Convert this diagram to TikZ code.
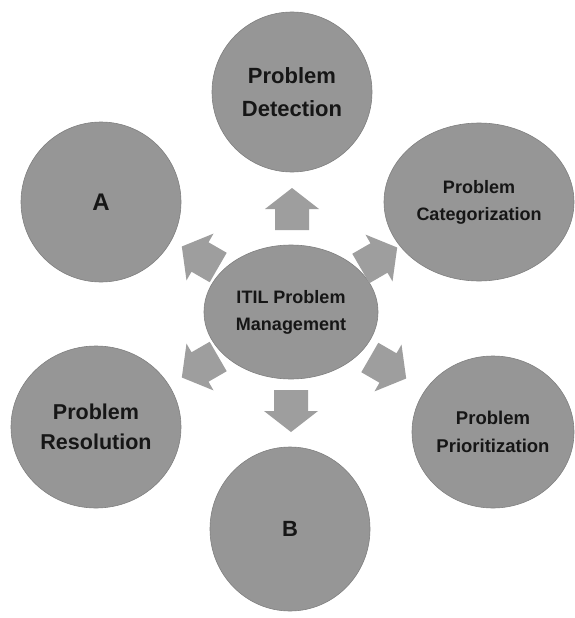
\documentclass[tikz,border=0pt]{standalone}
\usepackage{fontspec}
\setmainfont{Liberation Sans}
\usetikzlibrary{shapes.geometric}
\definecolor{bubble}{RGB}{150,150,150}
\definecolor{arrowgray}{RGB}{158,158,158}
\definecolor{ink}{RGB}{22,22,22}
\tikzset{
  bubble/.style={ellipse, fill=bubble, draw=bubble!85!black, line width=0.6pt, inner sep=0pt, text=ink, align=center},
  fs/.style 2 args={font=\bfseries\fontsize{#1}{#2}\selectfont},
  blockarrow/.pic={\fill[arrowgray] (-21,-17) -- (0,-17) -- (0,-27) -- (21,0) -- (0,27) -- (0,17) -- (-21,17) -- cycle;}
}
\begin{document}
\begin{tikzpicture}[x=1pt,y=-1pt]
\useasboundingbox (0,0) rectangle (574,618);
\fill[white] (0,0) rectangle (574,618);
% bubbles
\node[bubble, fs={22}{33}, minimum width=160pt, minimum height=160pt] (det) at (292,92) {Problem\\Detection};
\node[bubble, fs={24}{28}, minimum width=160pt, minimum height=160pt] (a) at (101,202) {A};
\node[bubble, fs={18}{27}, minimum width=190pt, minimum height=158pt] (cat) at (479,202) {Problem\\Categorization};
\node[bubble, fs={18}{27}, minimum width=174pt, minimum height=134pt] (itil) at (291,312) {ITIL Problem\\Management};
\node[bubble, fs={21.5}{30}, minimum width=170pt, minimum height=162pt] (res) at (96,427) {Problem\\Resolution};
\node[bubble, fs={22}{26}, minimum width=160pt, minimum height=164pt] (b) at (290,529) {B};
\node[bubble, fs={18.5}{28}, minimum width=162pt, minimum height=152pt] (pri) at (493,432) {Problem\\Prioritization};
% arrows
\pic[rotate=90] at (292,209) {blockarrow};
\pic[rotate=150] at (200,257) {blockarrow};
\pic[rotate=30] at (379,258) {blockarrow};
\pic[rotate=210] at (200,367) {blockarrow};
\pic[rotate=330] at (388,368) {blockarrow};
\pic[rotate=270] at (291,411) {blockarrow};
\end{tikzpicture}
\end{document}
